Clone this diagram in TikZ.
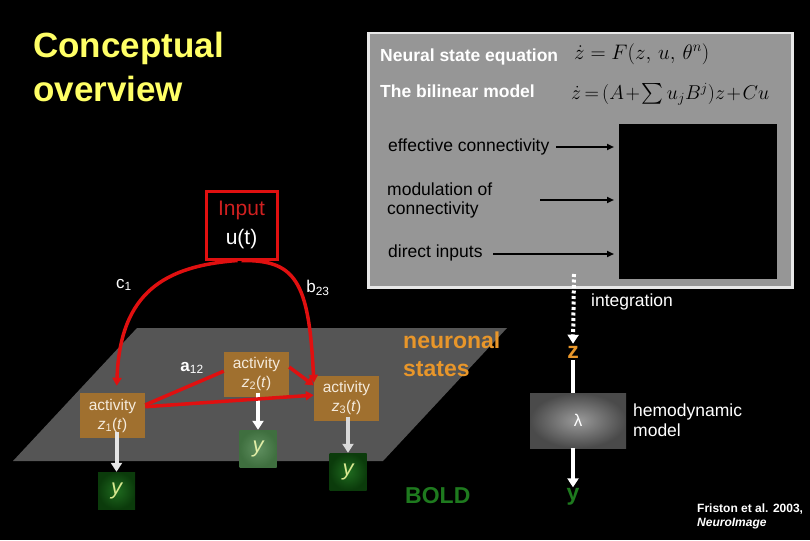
\RequirePackage{fix-cm}
\documentclass[tikz,border=0pt]{standalone}
\usepackage{amsmath}
\usepackage{fontspec}
\setmainfont{Liberation Sans}
\usetikzlibrary{arrows.meta,calc}
\newcommand\fsz[2]{\fontsize{#1}{#2}\selectfont}
\definecolor{titley}{HTML}{FFFF66}
\definecolor{panelg}{HTML}{969696}
\definecolor{panelborder}{HTML}{E8E8E8}
\definecolor{plane}{HTML}{555555}
\definecolor{actc}{HTML}{A0702F}
\definecolor{acttext}{HTML}{F5EBDC}
\definecolor{redc}{HTML}{E01010}
\definecolor{inputred}{HTML}{D02020}
\definecolor{orangec}{HTML}{E8962A}
\definecolor{boldg}{HTML}{1E7A1E}
\definecolor{ygreenin}{HTML}{1F6B1F}
\definecolor{ygreenout}{HTML}{0B3B0B}
\definecolor{ylightin}{HTML}{5F8F5F}
\definecolor{ylightout}{HTML}{3F6F3F}
\definecolor{ytext}{HTML}{D8E890}
\definecolor{lamin}{HTML}{9A9A9A}
\definecolor{lamout}{HTML}{4A4A4A}
\begin{document}
\begin{tikzpicture}[x=1pt,y=-1pt,
  lbl/.style={inner sep=0pt, anchor=west, text=white},
  actbox/.style={fill=actc, minimum width=65pt, minimum height=45pt, inner sep=0pt, align=center, text=acttext, font=\fsz{15.5}{19}},
  ybox/.style={minimum width=37pt, minimum height=37pt, inner sep=0pt, inner color=ygreenin, outer color=ygreenout, text=ytext, font=\fsz{22}{24}\itshape},
  redarr/.style={draw=redc, line width=3.5pt, -{Triangle[length=8pt,width=9pt]}},
  whitearr/.style={line width=4pt, -{Triangle[length=9pt,width=11pt]}},
  blkarr/.style={draw=black, line width=1.8pt, -{Triangle[length=7pt,width=6pt]}}
]
\fill[black] (0,0) rectangle (810,540);
\useasboundingbox (0,0) rectangle (810,540);

% title
\node[anchor=base west, inner sep=0pt, text=titley, font=\fsz{35}{40}\bfseries] (title1) at (33,58) {Conceptual};
\node[anchor=base west, inner sep=0pt, text=titley, font=\fsz{35}{40}\bfseries] (title2) at (33,102) {overview};

% panel
\node[draw=panelborder, line width=2.5pt, fill=panelg, minimum width=424pt, minimum height=254pt, inner sep=0pt, anchor=north west] (panel) at (367,32) {};
\node[fill=black, minimum width=158pt, minimum height=155pt, anchor=north west, inner sep=0pt] (blk) at (619,124) {};

\node[lbl, font=\fsz{17.5}{20}\bfseries] (nse) at (380,57) {Neural state equation};
\node[lbl, font=\fsz{17.5}{20}\bfseries] (bil) at (380,91) {The bilinear model};
\node[anchor=west, inner sep=0pt, font=\fsz{21}{24}] (eq1) at (574,54) {$\dot{z}=F(z,\,u,\,\theta^{n})$};
\node[anchor=west, inner sep=0pt, font=\fsz{20}{24}] (eq2) at (571,94) {$\medmuskip=1.5mu\thickmuskip=3mu\dot{z}=(A+\sum u_{j}B^{j})z+Cu$};

\node[anchor=west, inner sep=0pt, font=\fsz{17.5}{20}] (eff) at (388,147) {effective connectivity};
\node[anchor=west, inner sep=0pt, font=\fsz{17.5}{19}, align=left] (mod) at (387,200) {modulation of\\connectivity};
\node[anchor=west, inner sep=0pt, font=\fsz{17.5}{20}] (dir) at (388,253) {direct inputs};
\coordinate (effS) at (556,147);
\coordinate (modS) at (540,200);
\coordinate (dirS) at (493,254);
\draw[blkarr] (effS) -- ($(effS -| blk.west)+(-5,0)$);
\draw[blkarr] (modS) -- ($(modS -| blk.west)+(-5,0)$);
\draw[blkarr] (dirS) -- ($(dirS -| blk.west)+(-5,0)$);

% right column
\node[text=orangec, font=\fsz{23}{26}\bfseries, inner sep=2pt] (zn) at (573,352) {z};
\node[minimum width=96pt, minimum height=55pt, inner sep=0pt, inner color=lamin, outer color=lamout, text=white, font=\fsz{17}{20}] (lam) at (578,420.5) {λ};
\node[text=boldg, font=\fsz{23}{26}\bfseries, inner sep=1pt] (yb) at (573,497) {y};
\coordinate (intS) at (574,274);
\draw[white, line width=4pt, dash pattern=on 3pt off 2.5pt, -{Triangle[length=9pt,width=11pt]}] (intS) -- (zn.north);
\draw[white, line width=4pt] (zn.south) -- (zn.south |- lam.north);
\draw[white, whitearr] (lam.south -| zn) -- (yb.north);
\node[lbl, font=\fsz{17.5}{20}] (integ) at (591,302) {integration};
\node[lbl, font=\fsz{17.5}{20}, align=left] (hemo) at (633,420) {hemodynamic\\model};
\node[lbl, font=\fsz{12}{14}\bfseries, align=left, anchor=north west] (cite) at (697,504) {Friston et al. 2003,\\\textit{NeuroImage}};

% plane
\fill[plane] (137,328) -- (507,328) -- (383,461) -- (13,461) -- cycle;
\node[lbl, text=orangec, font=\fsz{23}{28}\bfseries, align=left] (neur) at (403,354) {neuronal\\states};
\node[lbl, text=boldg, font=\fsz{23}{26}\bfseries] (bold) at (405,496) {BOLD};

% input
\node[draw=redc, line width=3pt, minimum width=71pt, minimum height=68pt, inner sep=0pt, align=center, font=\fsz{21}{29}] (inp) at (241.5,225) {\textcolor{inputred}{Input}\\\textcolor{white}{u(t)}};

% activity boxes
\node[actbox] (z1) at (112.5,415.5) {activity\\\textit{z}\textsubscript{1}(\textit{t})};
\node[actbox] (z2) at (256.5,374) {activity\\\textit{z}\textsubscript{2}(\textit{t})};
\node[actbox] (z3) at (346.5,398) {activity\\\textit{z}\textsubscript{3}(\textit{t})};

% y boxes
\node[ybox] (y1) at (116.5,490.5) {y};
\node[ybox, inner color=ylightin, outer color=ylightout, text=ytext!80!white] (y2) at (258,448.5) {y};
\node[ybox] (y3) at (348,471.5) {y};

\draw[gray!20, whitearr] ($(z1.south -| y1.north)+(0,-6)$) -- (y1.north);
\draw[white, whitearr] ($(z2.south -| y2.north)+(0,-4)$) -- (y2.north);
\draw[gray!30, whitearr] ($(z3.south -| y3.north)+(0,-4)$) -- (y3.north);

% red connections
\draw[redc, line width=3.5pt] (z1.18) -- (z2.175);
\draw[redarr] (z1.15) -- (z3.175);
\draw[redarr] (z2.12) -- (z3.159);
\draw[redarr, shorten >=7pt] ($(inp.south)+(-4,0)$) .. controls (165,266) and (120,292) .. (z1.80);
\draw[redarr] ($(inp.south)+(0,0)$) .. controls (295,260) and (309,280) .. (z3.155);

% labels
\node[text=white, font=\fsz{17}{20}, inner sep=0pt] (c1) at (124,285) {c\textsubscript{1}};
\node[text=white, font=\fsz{17}{20}, inner sep=0pt] (b23) at (318,288) {b\textsubscript{23}};
\node[text=white, font=\fsz{17}{20}, inner sep=0pt] (a12) at (192,368) {\textbf{a}\textsubscript{12}};
\end{tikzpicture}
\end{document}
